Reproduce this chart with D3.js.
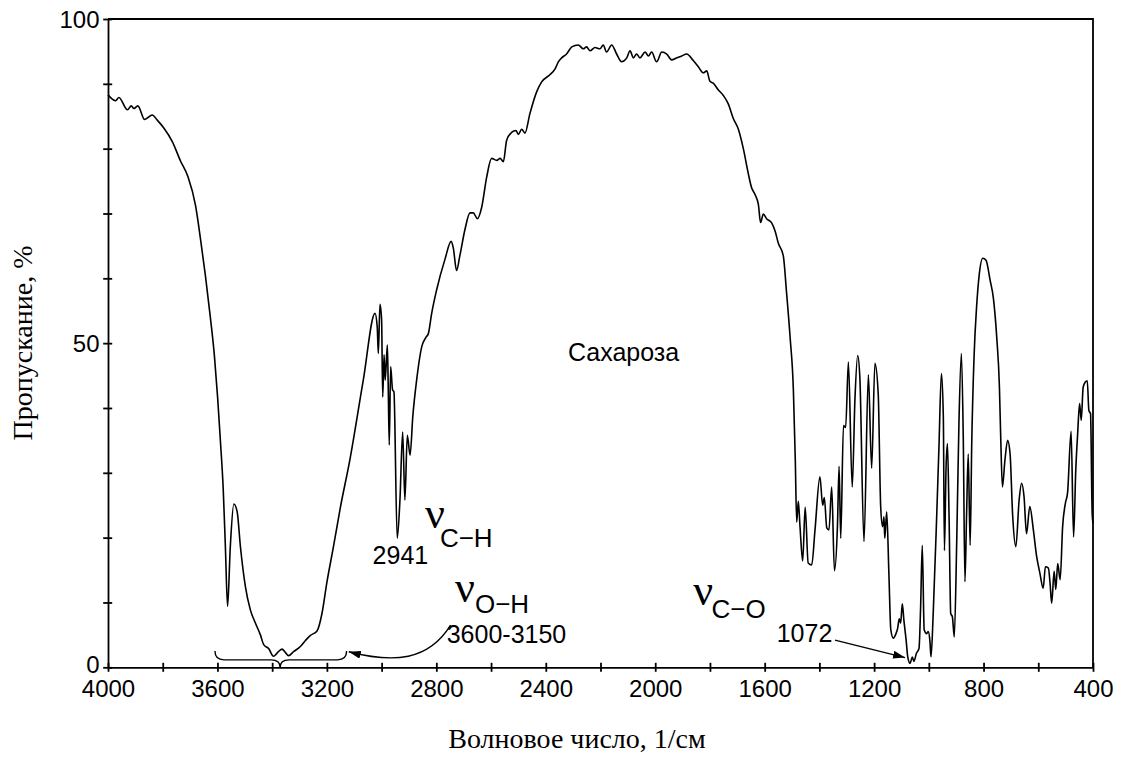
<!DOCTYPE html>
<html><head><meta charset="utf-8">
<script src="https://cdn.jsdelivr.net/npm/d3@7"></script>
<style>body{margin:0;background:#fff}svg{display:block}</style>
</head><body>
<svg id="c" width="1122" height="758"></svg>
<script>
const wavenumber = [4000,3972,3960,3929,3915,3905,3891,3866,3838,3820,3796,3765,3735,3708,3680,3662,3644,3626,3611,3599,3589,3579,3571,3563,3553,3540,3528,3516,3498,3480,3461,3443,3431,3413,3395,3382,3364,3352,3340,3322,3297,3279,3261,3236,3218,3200,3176,3151,3116,3067,3024,3016,3012,3006,3000,2996,2991,2987,2979,2976,2972,2967,2960,2955,2943,2933,2923,2915,2906,2896,2886,2872,2853,2838,2829,2817,2799,2768,2746,2738,2726,2714,2695,2677,2665,2650,2634,2616,2598,2579,2567,2555,2543,2525,2509,2500,2488,2476,2458,2433,2415,2385,2366,2354,2342,2324,2305,2281,2263,2251,2238,2220,2202,2190,2178,2159,2141,2123,2104,2092,2080,2068,2056,2037,2025,2013,1995,1976,1958,1940,1922,1903,1885,1861,1842,1824,1812,1800,1788,1770,1751,1733,1715,1697,1678,1660,1648,1636,1623,1615,1605,1593,1575,1562,1550,1532,1520,1507,1495,1488,1483,1477,1471,1461,1452,1441,1428,1416,1398,1388,1382,1373,1365,1355,1345,1334,1328,1322,1312,1304,1294,1280,1270,1260,1252,1237,1221,1209,1197,1185,1176,1169,1164,1161,1154,1146,1139,1130,1120,1114,1108,1103,1097,1091,1083,1077,1069,1060,1055,1045,1036,1030,1024,1017,1008,1002,996,992,984,971,963,954,947,943,937,932,926,920,914,907,898,890,881,874,868,862,856,849,843,835,825,816,803,791,776,764,752,742,737,731,722,712,703,694,682,670,661,652,643,631,618,606,594,582,574,563,557,551,542,536,529,520,511,501,493,480,471,463,456,449,443,436,428,421,415,409,403,400];
const transmittance = [88.3,87.4,87.9,86.0,86.6,86.2,86.6,84.5,85.2,84.4,83.2,81.1,78.1,75.7,71.2,66.1,60.4,54.0,48.0,41.4,34.8,27.6,18.6,9.4,18.6,25.2,24.0,18.6,12.5,8.9,6.8,5.0,3.5,2.9,1.7,2.2,2.8,2.3,1.8,2.4,3.2,4.1,4.9,5.6,8.3,13.1,18.6,24.6,32.0,44.3,54.6,52.5,48.4,56.0,53.6,41.7,48.2,44.3,49.7,43.8,34.3,46.4,42.8,42.5,19.9,25.8,36.3,25.8,35.8,32.7,38.7,44.3,49.5,50.9,51.5,54.6,58.2,63.0,65.7,64.7,61.2,63.5,67.6,70.1,70.1,69.2,71.0,75.6,78.5,78.2,78.5,78.0,81.3,82.5,82.8,82.2,83.0,82.4,85.4,88.8,90.3,91.4,92.3,93.4,94.0,94.6,95.7,96.0,95.4,95.7,95.1,95.6,95.4,96.0,94.9,96.0,94.6,93.4,94.0,95.1,94.0,94.6,94.0,94.9,94.3,94.9,93.4,94.9,94.6,93.7,94.0,94.3,94.6,93.6,92.6,91.7,92.0,90.4,90.1,89.1,88.2,86.9,84.7,83.1,80.0,76.2,74.0,73.0,71.4,68.6,69.9,69.2,68.6,67.3,65.4,63.5,57.8,50.9,42.7,31.9,22.4,25.6,21.8,16.4,24.7,16.1,15.8,21.2,29.4,25.0,26.2,21.5,21.2,27.8,14.9,21.8,31.0,19.9,37.3,37.0,47.1,27.8,41.4,48.1,44.6,19.4,45.1,30.7,46.9,42.2,24.8,21.7,23.2,19.9,24.0,14.5,5.8,4.5,5.2,6.0,7.5,6.8,9.8,7.2,4.2,1.6,0.6,1.6,0.9,2.2,2.9,9.3,18.8,5.8,5.2,5.5,4.0,1.6,8.3,23.7,34.0,45.3,38.6,18.0,30.9,34.5,23.2,8.3,7.8,4.7,19.6,37.6,48.4,35.0,13.2,23.7,32.9,18.8,35.0,47.6,55.9,60.5,63.1,62.8,59.7,56.9,51.0,43.2,35.0,27.8,31.9,35.0,32.9,23.7,18.6,25.8,28.4,26.3,20.6,24.8,21.2,17.1,14.5,12.2,15.5,15.3,13.0,9.9,14.8,12.0,16.0,13.5,21.7,25.3,26.9,36.4,20.1,30.4,36.1,40.7,38.1,43.2,44.0,44.2,39.6,39.1,23.7,22.2];
const xTicks = d3.range(4000, 399, -200);
const xLabels = [4000,3600,3200,2800,2400,2000,1600,1200,800,400];
const yTicks = d3.range(0, 101, 10);
const yLabels = [0,50,100];

const svg = d3.select("#c");
const x = d3.scaleLinear().domain([4000,400]).range([108,1093]);
const y = d3.scaleLinear().domain([0,100]).range([667.3,19]);
const sans = "'Liberation Sans', Arial, sans-serif";
const serif = "'Liberation Serif', 'Times New Roman', serif";

// frame
svg.append("path").attr("d", `M${x(4000)},${y(100)}H${x(400)}V${y(0)}`).attr("fill","none").attr("stroke","#000").attr("stroke-width",1.8);

const gx = svg.append("g").attr("transform",`translate(0,${y(0)})`)
  .call(d3.axisBottom(x).tickValues(xTicks).tickSize(0).tickFormat(d => xLabels.includes(d) ? d : ""));
gx.select(".domain").attr("stroke-width",1.8);
gx.selectAll(".tick line").attr("y1",-4.5).attr("y2",4.5).attr("stroke-width",1.8);
gx.selectAll(".tick text").attr("y",30).attr("dy",null).attr("font-family",sans).attr("font-size",24).attr("fill","#000");

const gy = svg.append("g").attr("transform",`translate(${x(4000)},0)`)
  .call(d3.axisLeft(y).tickValues(yTicks).tickSize(0).tickFormat(d => yLabels.includes(d) ? d : ""));
gy.select(".domain").attr("stroke-width",1.8);
gy.selectAll(".tick line").attr("x1",-4.8).attr("x2",4.2).attr("stroke-width",1.8);
gy.selectAll(".tick text").attr("x",-8.5).attr("dy",d => d === 0 ? "0.2em" : "0.36em").attr("font-family",sans).attr("font-size",24).attr("fill","#000");

// spectrum
const pts = wavenumber.map((w,i)=>[w, transmittance[i]]);
svg.append("path").datum(pts)
  .attr("d", d3.line().x(d=>x(d[0])).y(d=>y(d[1])).curve(d3.curveMonotoneX))
  .attr("fill","none").attr("stroke","#000").attr("stroke-width",1.6).attr("stroke-linejoin","round");

// axis titles
svg.append("text").attr("x",577).attr("y",748).attr("text-anchor","middle")
  .attr("font-family",serif).attr("font-size",28).text("Волновое число, 1/см");
svg.append("text").attr("transform","translate(32,343) rotate(-90)").attr("text-anchor","middle")
  .attr("font-family",serif).attr("font-size",28).text("Пропускание, %");

// compound label
svg.append("text").attr("x",x(2319)).attr("y",y(47.2)).attr("font-family",sans).attr("font-size",25).text("Сахароза");

// annotations
const defs = svg.append("defs");
defs.append("marker").attr("id","ah").attr("viewBox","0 0 12 8").attr("refX",12).attr("refY",4)
  .attr("markerWidth",12).attr("markerHeight",8).attr("markerUnits","userSpaceOnUse").attr("orient","auto")
  .append("path").attr("d","M0,0L12,4L0,8Z").attr("fill","#000");

function nu(w,T,sub,subW,subT){
  svg.append("text").attr("x",x(w)).attr("y",y(T)).attr("font-family",serif).attr("font-size",44).text("ν");
  svg.append("text").attr("x",x(subW)).attr("y",y(subT)).attr("font-family",sans).attr("font-size",26).text(sub);
}
nu(2841,21.5,"C\u2212H",2787,18.6);
nu(2732,10.1,"O\u2212H",2659,8.3);
nu(1861,9.6,"C\u2212O",1794,7.6);
const lbl=(w,T,t)=>svg.append("text").attr("x",x(w)).attr("y",y(T)).attr("font-family",sans).attr("font-size",25).text(t);
lbl(3033,16.0,"2941");
lbl(2762,3.75,"3600-3150");
lbl(1556,3.95,"1072");

// brace
const xl=x(3609), xr=x(3128), xc=x(3371), ye=y(2.5), yf=y(1.15), yt=y(0);
svg.append("path").attr("d",
  `M${xl},${ye}Q${xl},${yf} ${xl+9},${yf}L${xc-9},${yf}Q${xc},${yf} ${xc},${yt}Q${xc},${yf} ${xc+9},${yf}L${xr-9},${yf}Q${xr},${yf} ${xr},${ye}`)
  .attr("fill","none").attr("stroke","#000").attr("stroke-width",1.4);

// curved arrow to brace
const a0=[x(2748),y(6.5)], a1=[x(3120),y(2.4)];
svg.append("path").attr("d",`M${a0[0]},${a0[1]}C${a0[0]-22},${y(1.0)} ${a1[0]+45},${y(0.6)} ${a1[0]},${a1[1]}`)
  .attr("fill","none").attr("stroke","#000").attr("stroke-width",1.4).attr("marker-end","url(#ah)");
// straight arrow 1072
svg.append("line").attr("x1",x(1343)).attr("y1",y(4.2)).attr("x2",x(1087)).attr("y2",y(1.5))
  .attr("stroke","#000").attr("stroke-width",1.4).attr("marker-end","url(#ah)");
</script>
</body></html>
